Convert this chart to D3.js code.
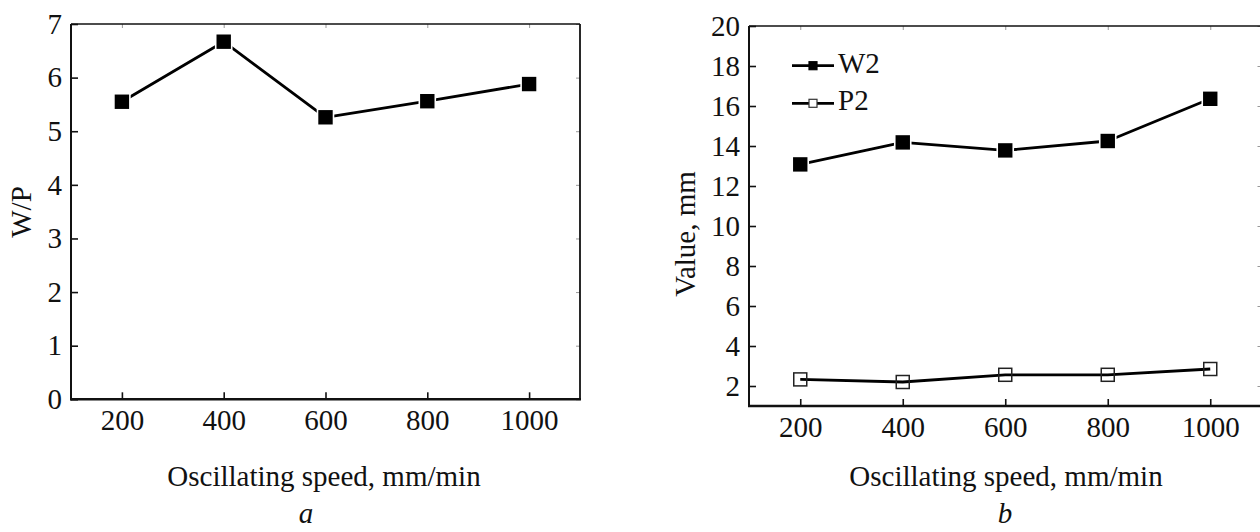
<!DOCTYPE html>
<html>
<head>
<meta charset="utf-8">
<script src="https://cdn.jsdelivr.net/npm/d3@7"></script>
<style>
  html, body { margin: 0; padding: 0; background: #fff; }
  svg { display: block; }
  text { font-family: "Liberation Serif", "Times New Roman", serif; fill: #111; }
</style>
</head>
<body>
<svg id="fig" width="1260" height="532"></svg>
<script>
// Oscillating speed (mm/min) shared by both panels
const speeds = [200, 400, 600, 800, 1000];
const speedTicks = [200, 400, 600, 800, 1000];

// Panel a: width-to-penetration ratio
const ratioWP = [5.55, 6.67, 5.26, 5.56, 5.88];
const ratioTicks = [0, 1, 2, 3, 4, 5, 6, 7];

// Panel b: weld width W2 and penetration P2, mm
const widthW2 = [13.08, 14.18, 13.78, 14.25, 16.36];
const depthP2 = [2.33, 2.20, 2.56, 2.56, 2.85];
const valueTicks = [2, 4, 6, 8, 10, 12, 14, 16, 18, 20];

const xTitle = "Oscillating speed, mm/min";

const svg = d3.select("#fig");
svg.append("rect").attr("width", 1260).attr("height", 532).attr("fill", "#fff");

const FS = 29;

function panel(cfg) {
  const g = svg.append("g");
  const x = d3.scaleLinear().domain([100, 1100]).range([cfg.left, cfg.right]);
  const y = d3.scaleLinear().domain(cfg.yDomain).range([cfg.bottom, cfg.top]);

  // bottom axis with inward ticks
  const gx = g.append("g").attr("transform", `translate(0,${cfg.bottom})`)
    .call(d3.axisBottom(x).tickValues(speedTicks).tickSize(-7).tickPadding(10).tickFormat(d3.format("d")));
  // left axis with inward ticks
  const gy = g.append("g").attr("transform", `translate(${cfg.left},0)`)
    .call(d3.axisLeft(y).tickValues(cfg.yTicks).tickSize(-7).tickPadding(9).tickFormat(d3.format("d")));
  // mirrored ticks on top and right
  const gt = g.append("g").attr("transform", `translate(0,${cfg.top})`)
    .call(d3.axisTop(x).tickValues(speedTicks).tickSize(-4).tickFormat(""));
  const gr = g.append("g").attr("transform", `translate(${cfg.right},0)`)
    .call(d3.axisRight(y).tickValues(cfg.yTicks).tickSize(-4).tickFormat(""));

  [gx, gy, gt, gr].forEach(a => a.select(".domain").remove());
  [gx, gy].forEach(a => {
    a.selectAll(".tick line").attr("stroke", "#111").attr("stroke-width", 1.6);
    a.selectAll(".tick text").style("font-size", FS + "px")
      .style("font-family", '"Liberation Serif", "Times New Roman", serif').attr("fill", "#111");
  });
  [gt, gr].forEach(a => a.selectAll(".tick line").attr("stroke", "#999").attr("stroke-width", 1));

  // frame
  g.append("line").attr("x1", cfg.left).attr("x2", cfg.right).attr("y1", cfg.top).attr("y2", cfg.top)
    .attr("stroke", "#111").attr("stroke-width", 1.6);
  g.append("line").attr("x1", cfg.right).attr("x2", cfg.right).attr("y1", cfg.top).attr("y2", cfg.bottom)
    .attr("stroke", "#111").attr("stroke-width", 1.8);
  g.append("line").attr("x1", cfg.left).attr("x2", cfg.left).attr("y1", cfg.top).attr("y2", cfg.bottom + 1)
    .attr("stroke", "#111").attr("stroke-width", 2);
  g.append("line").attr("x1", cfg.left - 1).attr("x2", cfg.right + 1).attr("y1", cfg.bottom).attr("y2", cfg.bottom)
    .attr("stroke", "#111").attr("stroke-width", 2.4);

  // series
  const line = d3.line().x((d, i) => x(speeds[i])).y(d => y(d));
  cfg.series.forEach(s => {
    g.append("path").datum(s.values).attr("d", line)
      .attr("fill", "none").attr("stroke", "#000").attr("stroke-width", 2.8).attr("stroke-linejoin", "round");
    const m = s.filled ? 16 : 13;
    g.selectAll(null).data(s.values).enter().append("rect")
      .attr("x", (d, i) => x(speeds[i]) - m / 2)
      .attr("y", d => y(d) - m / 2)
      .attr("width", m).attr("height", m)
      .attr("fill", s.filled ? "#000" : "none")
      .attr("stroke", s.filled ? "#fff" : "#222")
      .attr("stroke-width", s.filled ? 1.6 : 1.5);
  });

  // axis titles
  g.append("text").attr("x", cfg.titleX).attr("y", 486).attr("text-anchor", "middle")
    .style("font-size", FS + "px").text(xTitle);
  g.append("text")
    .attr("transform", `translate(${cfg.yLabelX},${cfg.yLabelY}) rotate(-90)`)
    .attr("text-anchor", "middle").style("font-size", FS + "px").text(cfg.yLabel);
  g.append("text").attr("x", cfg.letterX).attr("y", 523).attr("text-anchor", "middle")
    .style("font-size", FS + "px").style("font-style", "italic").text(cfg.letter);

  return { g, x, y };
}

panel({
  left: 71, right: 580, top: 24, bottom: 399.3,
  yDomain: [0, 7], yTicks: ratioTicks,
  series: [{ values: ratioWP, filled: true }],
  yLabel: "W/P", yLabelX: 31, yLabelY: 212,
  titleX: 324, letter: "a", letterX: 306
});

const pb = panel({
  left: 749, right: 1261.5, top: 26, bottom: 406,
  yDomain: [1, 20], yTicks: valueTicks,
  series: [{ values: widthW2, filled: true }, { values: depthP2, filled: false }],
  yLabel: "Value, mm", yLabelX: 695, yLabelY: 234,
  titleX: 1006, letter: "b", letterX: 1005
});

// legend for panel b
const legend = [
  { name: "W2", filled: true, y: 65.7 },
  { name: "P2", filled: false, y: 103.3 }
];
const lg = pb.g.append("g");
legend.forEach(d => {
  lg.append("line").attr("x1", 792).attr("x2", 834).attr("y1", d.y).attr("y2", d.y)
    .attr("stroke", "#000").attr("stroke-width", 2.8);
  lg.append("rect").attr("x", 813 - 4).attr("y", d.y - 4).attr("width", 8).attr("height", 8)
    .attr("fill", d.filled ? "#000" : "#fff").attr("stroke", d.filled ? "#000" : "#333").attr("stroke-width", 1.2);
  lg.append("text").attr("x", 838).attr("y", d.y + 7).style("font-size", FS + "px").text(d.name);
});
</script>
</body>
</html>
